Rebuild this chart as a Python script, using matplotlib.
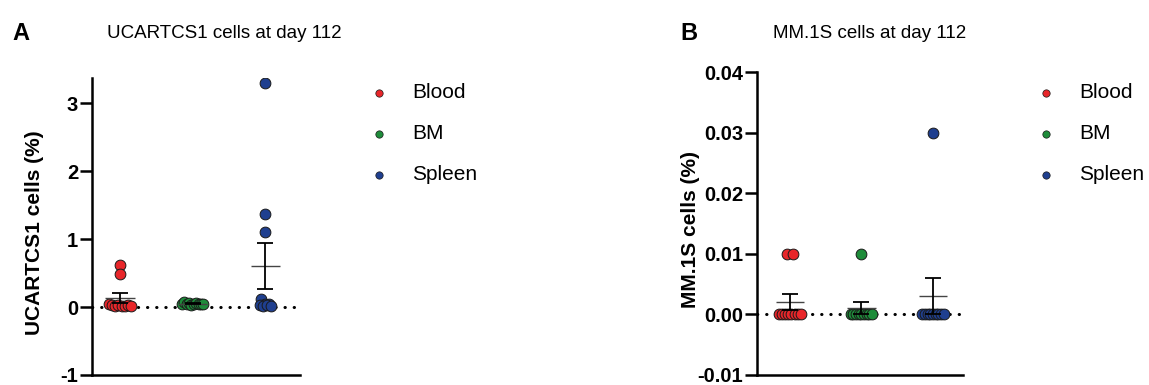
import numpy as np
import matplotlib
matplotlib.use("Agg")
import matplotlib.pyplot as plt

plt.rcParams['font.family'] = ['Liberation Sans', 'DejaVu Sans']

groups = ["Blood", "BM", "Spleen"]
colors = ["#e8262a", "#1e8c3a", "#1f3f8f"]

# UCARTCS1 cells (%) per mouse, day 112
ucart_blood = [0.62, 0.48, 0.04, 0.03, 0.02, 0.03, 0.01, 0.02, 0.03, 0.02]
ucart_bm = [0.05, 0.07, 0.04, 0.06, 0.03, 0.05, 0.06, 0.04, 0.05, 0.05]
ucart_spleen = [3.30, 1.37, 1.10, 0.12, 0.05, 0.03, 0.02, 0.04, 0.03, 0.02]

# MM.1S cells (%) per mouse, day 112
mm_blood = [0.01, 0.01, 0, 0, 0, 0, 0, 0, 0, 0]
mm_bm = [0.01, 0, 0, 0, 0, 0, 0, 0, 0, 0]
mm_spleen = [0.03, 0, 0, 0, 0, 0, 0, 0, 0, 0]


def swarm(vals, tol, width):
    # spread points sharing (almost) the same value side by side
    vals = np.asarray(vals, float)
    offs = np.zeros(len(vals))
    used = np.zeros(len(vals), bool)
    for i in range(len(vals)):
        if used[i]:
            continue
        idx = np.where((np.abs(vals - vals[i]) < tol) & ~used)[0]
        used[idx] = True
        k = len(idx)
        if k > 1:
            offs[idx] = np.linspace(-width / 2, width / 2, k) * min(1, k / 8)
    return offs


def panel(ax, data, ylim, yticks, fmt, ylabel, tol, xlim, lab_x, leg_anchor):
    for i, (vals, c) in enumerate(zip(data, colors)):
        vals = np.asarray(vals, float)
        x = i + swarm(vals, tol, 0.3)
        ax.scatter(x, vals, s=60, color=c, edgecolor="#1a1a1a", linewidth=0.7, zorder=3)
        m = vals.mean()
        sem = vals.std(ddof=1) / np.sqrt(len(vals))
        ax.hlines(m, i - 0.2, i + 0.2, color="#444444", lw=1.0, zorder=4)
        ax.errorbar(i, m, yerr=sem, color="black", lw=1.3, capsize=6, capthick=1.3, zorder=4)
        ax.scatter([], [], s=28, color=c, edgecolor="#1a1a1a", linewidth=0.5, label=groups[i])
    ax.axhline(0, color="black", lw=2.2, linestyle=(0, (0.1, 2.9)), dash_capstyle="round", zorder=2)
    ax.set_xlim(*xlim)
    ax.set_ylim(*ylim)
    ax.set_yticks(yticks)
    ax.set_yticklabels([fmt.format(t) for t in yticks], fontweight="bold", fontsize=14.5)
    ax.set_xticks([])
    ax.spines[["top", "right"]].set_visible(False)
    for s in ["left", "bottom"]:
        ax.spines[s].set_linewidth(1.8)
    ax.tick_params(axis="y", width=1.8, length=8.5, pad=1.5)
    ax.set_ylabel(ylabel, fontweight="bold", fontsize=15)
    ax.yaxis.set_label_coords(lab_x, 0.48)
    ax.legend(loc="upper left", bbox_to_anchor=leg_anchor, frameon=False, fontsize=15,
              handletextpad=1.1, labelspacing=1.05, handlelength=1.0, borderaxespad=0)


fig = plt.figure(figsize=(11.49, 3.85), dpi=100)
axA = fig.add_axes([92 / 1149, 10 / 385, 208 / 1149, 297 / 385])
axB = fig.add_axes([757 / 1149, 10 / 385, 206 / 1149, 303 / 385])

panel(axA, [ucart_blood, ucart_bm, ucart_spleen], (-1, 3.37), [-1, 0, 1, 2, 3], "{:g}",
      "UCARTCS1 cells (%)", 0.08, (-0.386, 2.48), -0.231, (1.288, 1.010))
panel(axB, [mm_blood, mm_bm, mm_spleen], (-0.01, 0.04), [-0.01, 0, 0.01, 0.02, 0.03, 0.04], "{:.2f}",
      "MM.1S cells (%)", 0.001, (-0.46, 2.42), -0.277, (1.31, 0.990))

fig.text(12 / 1149, 1 - 33 / 385, "A", fontsize=17, fontweight="bold", va="center")
fig.text(107 / 1149, 1 - 33 / 385, "UCARTCS1 cells at day 112", fontsize=13.5, va="center")
fig.text(680 / 1149, 1 - 33 / 385, "B", fontsize=17, fontweight="bold", va="center")
fig.text(773 / 1149, 1 - 33 / 385, "MM.1S cells at day 112", fontsize=13.5, va="center")

fig.savefig("out.png", dpi=100)
